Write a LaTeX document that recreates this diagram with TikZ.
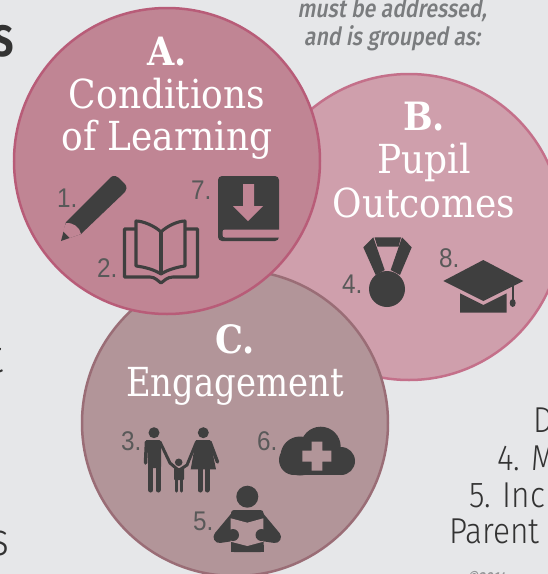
\documentclass[tikz,border=0pt]{standalone}
\usepackage{fontspec}
\usepackage{color}
\setmainfont{Liberation Sans}
\newfontfamily\slabfont[FakeStretch=0.9]{DejaVu Serif}
\newfontfamily\numfont[FakeStretch=0.9]{Liberation Sans}
\newfontfamily\thinfont[UprightFont=* Light,FakeStretch=0.88]{Fira Sans}
\newfontfamily\boldfont[FakeStretch=0.85]{Fira Sans}
\newfontfamily\noteface[UprightFont=* Medium,FakeStretch=0.85,FakeSlant=0.18]{Fira Sans}
\definecolor{paper}{RGB}{230, 231, 233}
\definecolor{fillA}{RGB}{192, 133, 148}
\definecolor{edgeA}{RGB}{184, 92, 120}
\definecolor{fillB}{RGB}{207, 159, 172}
\definecolor{edgeB}{RGB}{196, 112, 138}
\definecolor{fillC}{RGB}{178, 149, 153}
\definecolor{edgeC}{RGB}{154, 109, 118}
\definecolor{icon}{RGB}{63, 63, 63}
\definecolor{numgrey}{RGB}{89, 89, 89}
\definecolor{notegrey}{RGB}{122, 124, 126}
\definecolor{inkdark}{RGB}{51, 51, 51}

\begin{document}
\begin{tikzpicture}[x=1pt, y=-1pt,
    headtext/.style={anchor=base, inner sep=0, text=white, font=\slabfont\bfseries\fontsize{39}{39}\selectfont},
    slabtext/.style={anchor=base, inner sep=0, text=white, font=\slabfont\fontsize{40}{40}\selectfont},
    numtext/.style={anchor=base west, inner sep=0, text=numgrey, font=\numfont\fontsize{27}{27}\selectfont},
    thintext/.style={anchor=base west, inner sep=0, text=inkdark, font=\thinfont\fontsize{36}{36}\selectfont},
    notetext/.style={anchor=base, inner sep=0, text=notegrey, font=\noteface\fontsize{25}{25}\selectfont}]
  \useasboundingbox (0, 0) rectangle (548, 574);
  \clip (0, 0) rectangle (548, 574);
  \fill [color=paper] (0, 0) rectangle (548, 574);

  % Circles
  \draw [line width=2.5pt, color=edgeB, fill=fillB] (409, 227) circle (153);
  \draw [line width=2.5pt, color=edgeC, fill=fillC] (235, 423) circle (153);
  \draw [line width=2.5pt, color=edgeA, fill=fillA] (167, 161) circle (153);

  % Text cut off by the page
  \node [anchor=base east, inner sep=0, text=inkdark, font=\boldfont\bfseries\fontsize{44}{44}\selectfont] (heading) at (14.5, 56) {S};
  \node [anchor=base east, inner sep=0, text=inkdark, font=\thinfont\fontsize{46}{46}\selectfont] (leftT) at (4, 372) {t};
  \node [anchor=base east, inner sep=0, text=inkdark, font=\thinfont\fontsize{46}{46}\selectfont] (leftS) at (9.5, 555) {s};
  \node [thintext] (rightD) at (533, 432) {D};
  \node [thintext] (rightM) at (497, 470) {4. M};
  \node [thintext] (rightI) at (469, 507) {5. Incr};
  \node [thintext] (rightP) at (449, 543) {Parent};
  \node [anchor=base west, inner sep=0, text=notegrey!80, font=\noteface\fontsize{16}{16}\selectfont] (mark) at (467, 583) {©2014};

  % Note
  \node [notetext] (noteA) at (392, 17) {must be addressed,};
  \node [notetext] (noteB) at (392, 45) {and is grouped as:};

  % A
  \node [headtext] (headA) at (167, 65) {A.};
  \node [slabtext] (condA) at (167, 108.5) {Conditions};
  \node [slabtext] (learnA) at (167, 150) {of Learning};
  \node [numtext] (one) at (57, 207) {1.};
  \node [numtext] (two) at (97, 277) {2.};
  \node [numtext] (seven) at (191, 199) {7.};

  % B
  \node [headtext] (headB) at (424, 130) {B.};
  \node [slabtext] (pupilB) at (424, 173) {Pupil};
  \node [slabtext] (outB) at (424, 217) {Outcomes};
  \node [numtext] (four) at (342, 293) {4.};
  \node [numtext] (eight) at (439, 267) {8.};

  % C
  \node [headtext] (headC) at (235, 353) {C.};
  \node [slabtext, transform shape, xscale=0.94] (engC) at (235, 396) {Engagement};
  \node [numtext] (three) at (121, 450) {3.};
  \node [numtext] (six) at (257, 450) {6.};
  \node [numtext] (five) at (193, 530) {5.};

  % Pencil
  \fill [color=icon] (61, 241) -- (66, 222) -- (111, 177) .. controls (114, 175) and (117, 176) .. (119, 178)
    -- (125, 184) .. controls (127, 187) and (127, 190) .. (125, 192) -- (81, 234) -- cycle;
  \fill [color=fillA] (66, 223) .. controls (72, 222) and (80, 227) .. (81, 234) -- (70, 238) -- (63, 231) -- cycle;

  % Book
  \draw [line width=3.1pt, color=icon, line join=round] (135, 229) -- (124.5, 229) -- (124.5, 277) -- (150, 277)
    .. controls (155, 277) and (158, 281) .. (161, 283) .. controls (164, 281) and (167, 277) .. (173, 277)
    -- (197.5, 277) -- (197.5, 229) -- (186, 229);
  \draw [line width=3.1pt, color=icon, line join=round] (161, 232) .. controls (155, 226) and (143, 221) .. (136, 221)
    -- (136, 266) .. controls (145, 267) and (155, 270) .. (161, 274)
    .. controls (167, 270) and (177, 267) .. (185, 266) -- (185, 221) .. controls (178, 221) and (167, 226) .. (161, 232) -- cycle;
  \draw [line width=3.1pt, color=icon] (161, 232) -- (161, 274);

  % Download
  \fill [rounded corners=4pt, color=icon] (218, 176) rectangle (279, 241);
  \fill [rounded corners=2.5pt, color=fillA] (222.5, 229.5) rectangle (285, 237.5);
  \fill [color=fillA] (243, 184) -- (254, 184) -- (254, 206) -- (263, 206) -- (248, 221) -- (233, 206) -- (243, 206) -- cycle;

  % Medal
  \fill [color=icon] (374.5, 237.3) -- (401, 237.3) -- (398.5, 246.7) -- (377.5, 246.7) -- cycle;
  \fill [color=icon] (363.3, 247.3) -- (373.3, 237.3) -- (384.7, 270) -- (375.7, 275) -- cycle;
  \fill [color=icon] (411.7, 247.3) -- (402, 237.3) -- (390.7, 270) -- (400, 275) -- cycle;
  \fill [color=icon] (387, 289) circle (18);

  % Cap
  \fill [color=icon] (460, 293.3) -- (483.3, 305) -- (506.7, 293.3) -- (506.7, 312.7) -- (460, 312.7) -- cycle;
  \fill [color=icon] (443.3, 281) -- (483.3, 260) -- (523.3, 281) -- (483.3, 301) -- cycle;
  \draw [line width=1.8pt, color=icon] (512.7, 285) -- (512.7, 300);
  \fill [color=icon] (512.7, 303) ellipse (3 and 4);

  % Family
  \fill [color=icon] (154, 432.7) circle (5.5);
  \fill [color=icon, rounded corners=1.5pt] (145, 440) -- (161, 440) -- (161, 468) -- (148, 468) -- (148, 450) -- cycle;
  \draw [line width=5pt, line cap=round, color=icon] (150.8, 466) -- (150.8, 490) (158, 466) -- (158, 490);
  \draw [line width=3.5pt, line cap=round, color=icon] (146.5, 442) -- (145.5, 463);
  \draw [line width=3pt, line cap=round, color=icon] (160, 442) -- (170, 463) -- (177, 469);
  \fill [color=icon] (203.3, 432.7) circle (5.5);
  \fill [color=icon] (196, 440) -- (210, 440) -- (216, 469.3) -- (190.7, 469.3) -- cycle;
  \draw [line width=5pt, line cap=round, color=icon] (200, 468) -- (200, 490) (207, 468) -- (207, 490);
  \draw [line width=3.5pt, line cap=round, color=icon] (210, 442) -- (217.5, 462);
  \draw [line width=3pt, line cap=round, color=icon] (196.5, 442) -- (187, 465) -- (181, 469);
  \fill [color=icon] (178.7, 462.3) circle (3.8);
  \fill [color=icon, rounded corners=1pt] (174, 468) rectangle (184, 480);
  \draw [line width=3.4pt, line cap=round, color=icon] (176.5, 478) -- (176.5, 491) (181.5, 478) -- (181.5, 491);

  % Cloud
  \fill [color=icon] (320.7, 446.7) circle (20) (300, 456) circle (19.5) (294, 460) circle (15) (341, 461) circle (14);
  \fill [color=icon] (294, 455) rectangle (341, 475);
  \fill [color=fillC] (311.7, 441.7) rectangle (322.3, 470.7) (302.3, 450.7) rectangle (331.3, 461.7);

  % Reader
  \fill [color=icon] (247.3, 496.7) circle (11);
  \fill [color=icon, rounded corners=3pt] (231, 510) rectangle (263.5, 552);
  \fill [color=icon] (231, 545) rectangle (263.5, 551.7);
  \draw [line width=12pt, line cap=round, line join=round, color=icon] (237, 516) -- (219.5, 537) -- (233, 535);
  \draw [line width=12pt, line cap=round, line join=round, color=icon] (257.5, 516) -- (275, 537) -- (261.5, 535);
  \fill [color=fillC] (230.7, 518.3) -- (247.3, 522.7) -- (263.3, 518.3) -- (263.3, 541.7) -- (247.3, 546) -- (230.7, 541.7) -- cycle;
  \fill [color=icon] (233, 535) circle (6) (261.5, 535) circle (6);
\end{tikzpicture}
\end{document}
